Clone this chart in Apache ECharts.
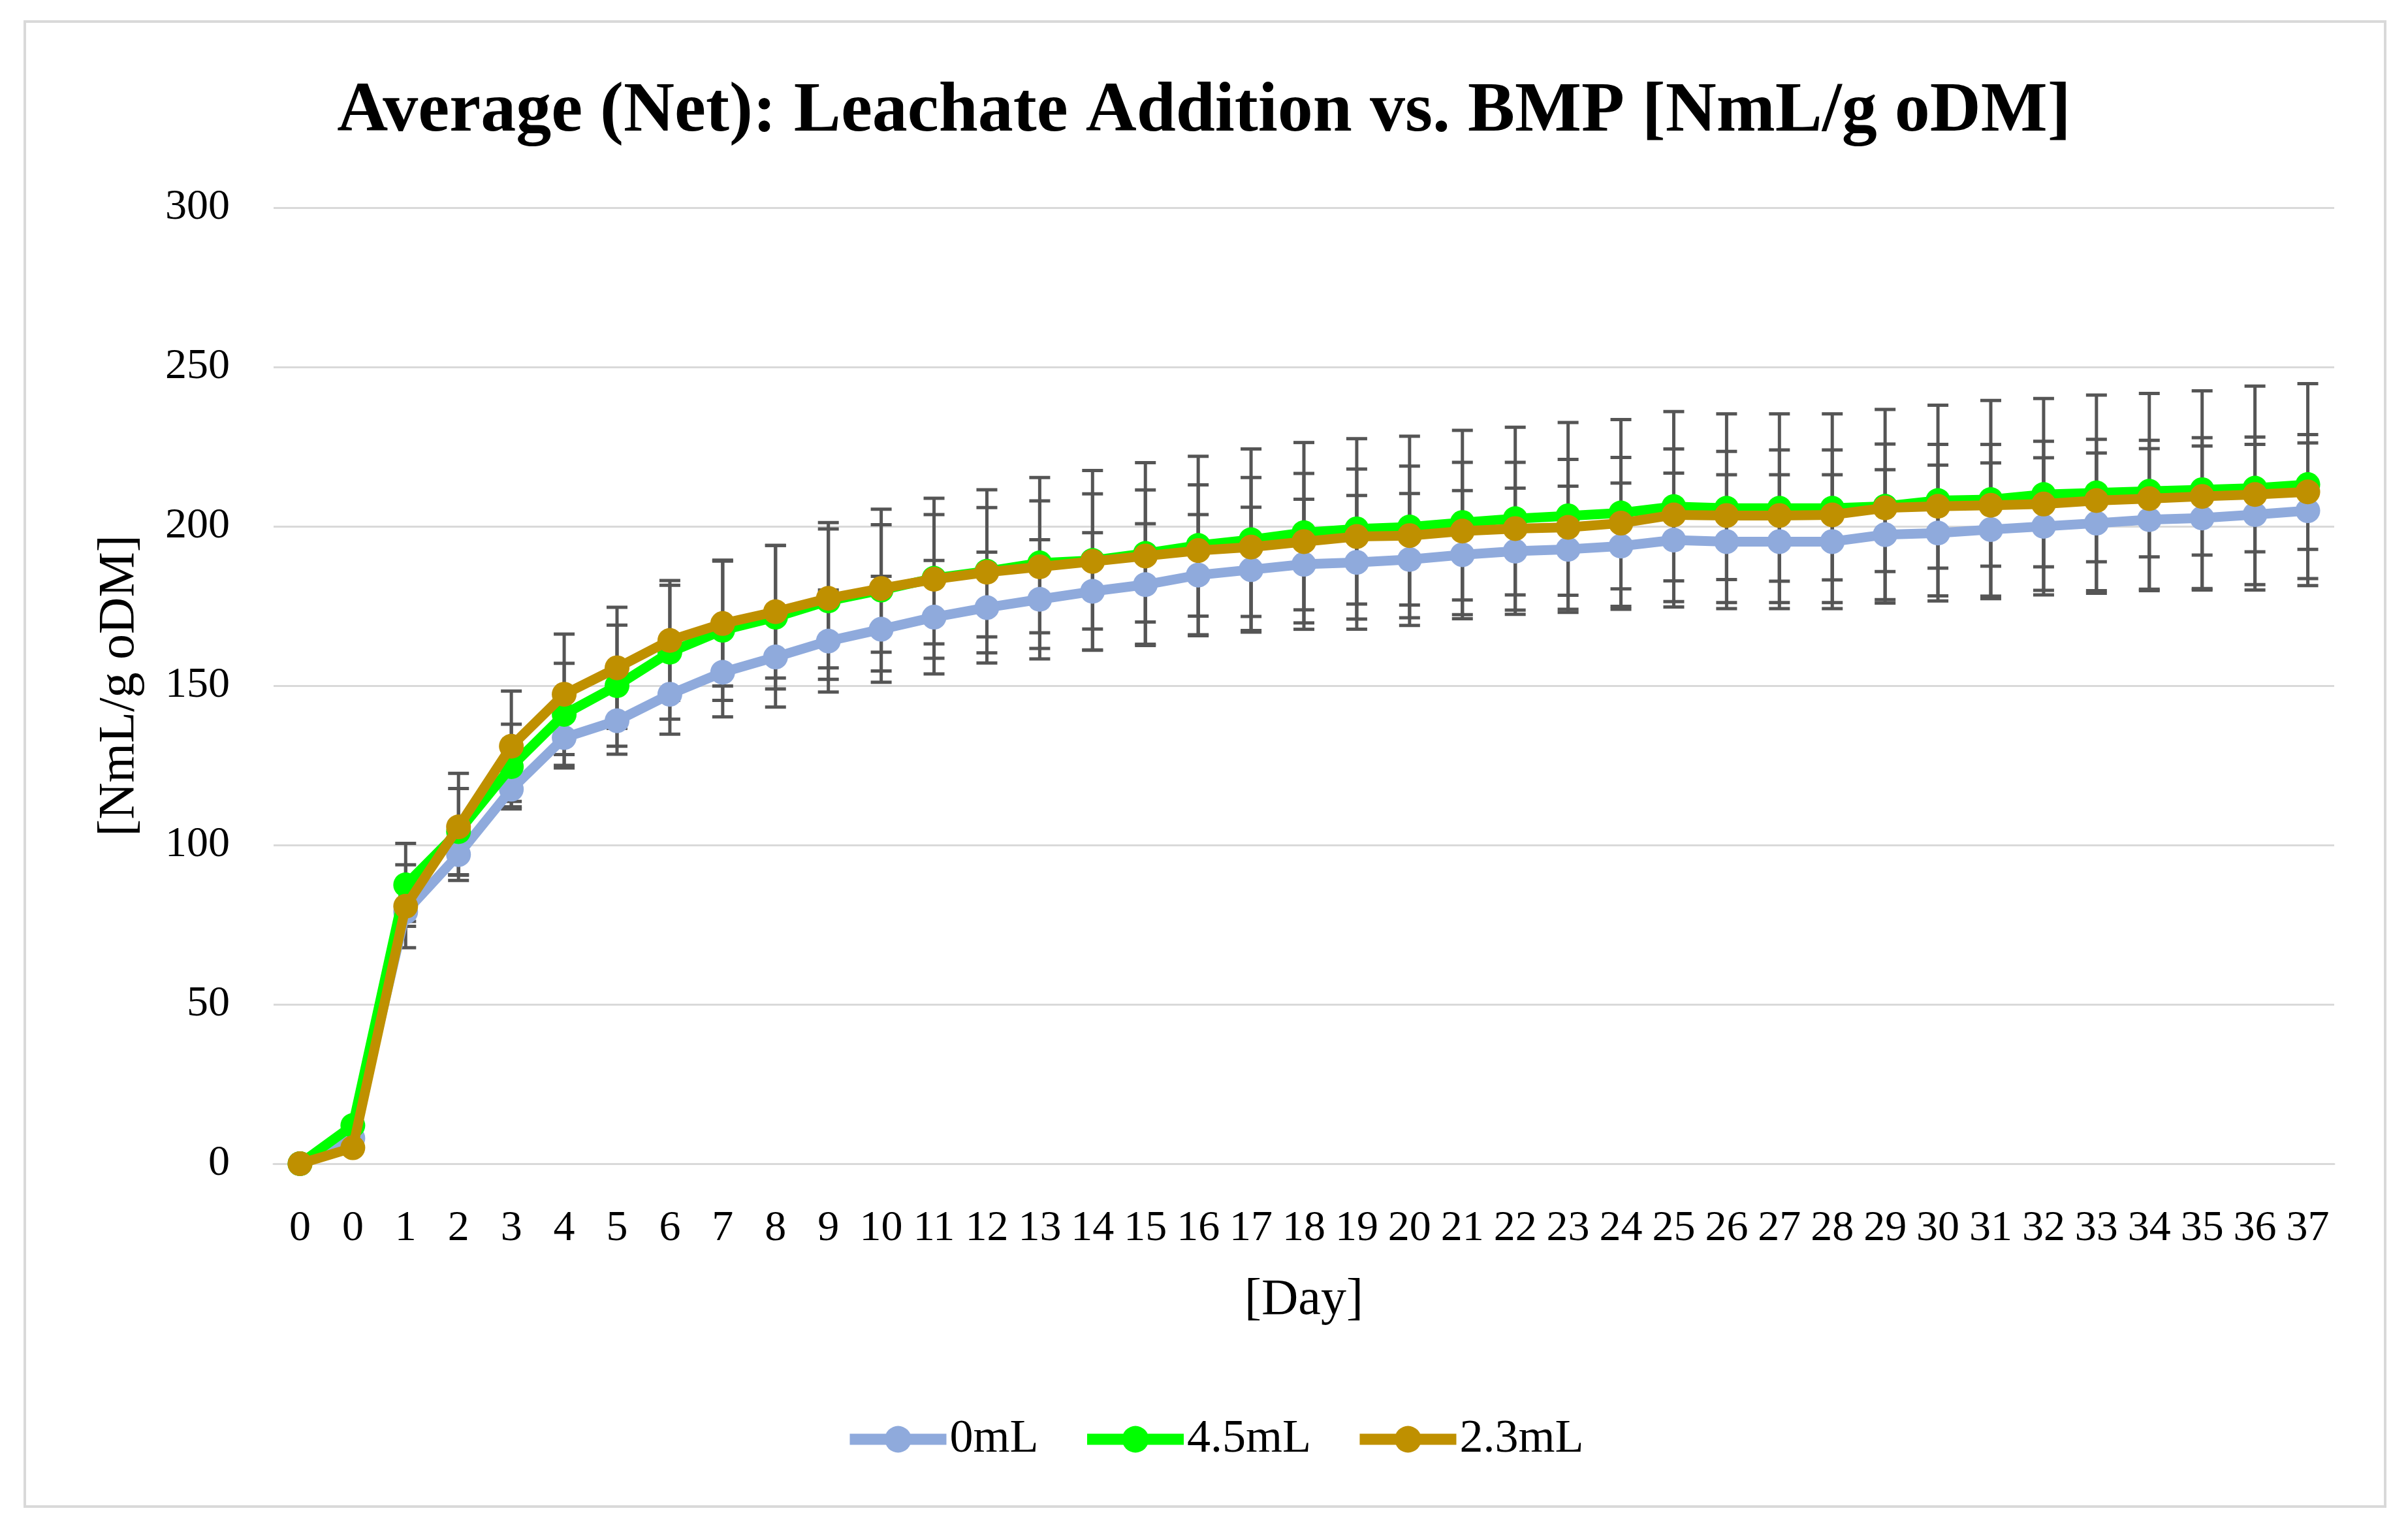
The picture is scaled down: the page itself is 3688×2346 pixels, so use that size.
<!DOCTYPE html>
<html>
<head>
<meta charset="utf-8">
<script src="https://cdn.jsdelivr.net/npm/echarts@6/dist/echarts.min.js"></script>
<style>
html,body{margin:0;padding:0;background:#fff;}
#chart{width:3688px;height:2346px;}
</style>
</head>
<body>
<div id="chart"></div>
<script>
const categories = ['0','0','1','2','3','4','5','6','7','8','9','10','11','12','13','14','15','16','17','18','19','20','21','22','23','24','25','26','27','28','29','30','31','32','33','34','35','36','37'];

const seriesNames = ['0mL', '4.5mL', '2.3mL'];

const values0mL = [0, 8, 79, 97, 117.5, 133.7, 139, 147.3, 154.2, 159, 164, 167.7, 171.5, 174.5, 177.1, 179.6, 181.7, 184.7, 186.4, 188.1, 188.7, 189.6, 191.1, 192.2, 192.8, 193.8, 195.7, 195.2, 195.2, 195.2, 197.4, 197.9, 199, 200, 201, 202.1, 202.6, 203.7, 204.9];
const values45mL = [0, 12, 87.5, 104.2, 124.6, 141, 150, 160.5, 167.4, 171.5, 176.6, 180, 183.7, 185.9, 188.5, 189.3, 191.5, 194, 195.8, 198, 199.2, 199.8, 201.2, 202.4, 203.3, 204.2, 206.2, 205.7, 205.7, 205.7, 206.3, 208.1, 208.4, 210, 210.5, 211, 211.5, 212, 213.1];
const values23mL = [0, 5, 80.8, 105.7, 131, 147.3, 155.6, 164.2, 169.5, 173.2, 177.4, 180.5, 183.4, 185.6, 187.3, 189, 190.7, 192.4, 193.5, 195.2, 196.8, 197.1, 198.5, 199.3, 199.7, 201, 203.6, 203.4, 203.4, 203.6, 205.8, 206.3, 206.6, 207, 208.1, 208.7, 209.4, 210, 210.8];

const err0mL = [0, 0, 3, 6.5, 5.5, 9.5, 10.5, 12.5, 14, 15.7, 16, 16.6, 17.8, 17.4, 18.7, 18.4, 19.1, 19, 19.6, 20.4, 21, 20.7, 20.1, 19.8, 19.8, 19.8, 21, 21, 21, 21, 20.4, 21.3, 20.9, 21.5, 22, 22.3, 22.6, 22, 21.3];
const err45mL = [0, 0, 13, 13.5, 13.3, 16, 19, 21, 22, 22.5, 24.6, 25.4, 25.1, 25.6, 26.8, 28.2, 28.5, 28, 28.5, 28.3, 28.3, 28.5, 28.9, 28.7, 29.3, 29.3, 29.8, 29.6, 29.6, 29.6, 30.4, 29.9, 31.1, 30.1, 30.7, 30.7, 31, 32, 31.7];
const err23mL = [0, 0, 13, 16.8, 17.3, 18.9, 19, 18.8, 19.6, 20.8, 21.8, 20, 20.3, 20.3, 20.7, 21.2, 20.7, 20.6, 21.8, 21.4, 21.2, 21.8, 21.6, 20.8, 21.3, 20.6, 20.7, 20.1, 20.6, 20.4, 20, 19.4, 19.1, 19.7, 19.2, 18.3, 18.4, 18, 18];

const yTicks = {min: 0, max: 300, interval: 50};

const colors = ['#8FAADC', '#00FF00', '#BF9000'];
const FONT = 'Liberation Serif';

const allValues = [values0mL, values45mL, values23mL];
const allErrs = [err0mL, err45mL, err23mL];

function errorData(vals, errs) {
  return vals.map((v, i) => [i, v - errs[i], v + errs[i], errs[i]]);
}

function renderError(params, api) {
  const e = api.value(3);
  if (!e) return null;
  const i = api.value(0);
  const lo = api.coord([i, api.value(1)]);
  const hi = api.coord([i, api.value(2)]);
  const half = 16;
  const style = {stroke: '#555555', lineWidth: 5};
  return {
    type: 'group',
    children: [
      {type: 'line', shape: {x1: lo[0], y1: lo[1], x2: hi[0], y2: hi[1]}, style: style},
      {type: 'line', shape: {x1: lo[0] - half, y1: lo[1], x2: lo[0] + half, y2: lo[1]}, style: style},
      {type: 'line', shape: {x1: hi[0] - half, y1: hi[1], x2: hi[0] + half, y2: hi[1]}, style: style}
    ]
  };
}

const series = [];
allValues.forEach((vals, k) => {
  series.push({
    type: 'custom',
    name: seriesNames[k] + ' error',
    renderItem: renderError,
    data: errorData(vals, allErrs[k]),
    z: 1,
    silent: true
  });
});
allValues.forEach((vals, k) => {
  series.push({
    type: 'line',
    name: seriesNames[k],
    data: vals,
    color: colors[k],
    symbol: 'circle',
    symbolSize: 38,
    showAllSymbol: true,
    lineStyle: {width: 15, color: colors[k]},
    itemStyle: {color: colors[k]},
    z: 2 + k
  });
});

const chart = echarts.init(document.getElementById('chart'), null, {renderer: 'canvas'});
chart.setOption({
  animation: false,
  backgroundColor: '#fff',
  title: {
    text: 'Average (Net): Leachate Addition vs. BMP [NmL/g oDM]',
    left: 'center',
    top: 113,
    textStyle: {fontFamily: FONT, fontWeight: 'bold', fontSize: 108, color: '#000'}
  },
  graphic: [{
    type: 'rect',
    shape: {x: 38, y: 33, width: 3615, height: 2274},
    style: {fill: 'none', stroke: '#D9D9D9', lineWidth: 4},
    silent: true,
    z: -1
  }],
  legend: {
    data: seriesNames,
    left: 1288,
    top: 2163,
    itemWidth: 148,
    itemHeight: 51,
    itemGap: 66,
    lineStyle: {width: 17},
    textStyle: {fontFamily: FONT, fontSize: 72, color: '#000'}
  },
  grid: {left: 419, right: 113, top: 318, bottom: 564, containLabel: false},
  xAxis: {
    type: 'category',
    data: categories,
    boundaryGap: true,
    name: '[Day]',
    nameLocation: 'middle',
    nameGap: 171,
    nameTextStyle: {fontFamily: FONT, fontSize: 78, color: '#000'},
    axisLine: {show: true, lineStyle: {color: '#D9D9D9', width: 3}},
    axisTick: {show: false},
    axisLabel: {fontFamily: FONT, fontSize: 66, color: '#000', margin: 67, interval: 0}
  },
  yAxis: {
    type: 'value',
    min: yTicks.min,
    max: yTicks.max,
    interval: yTicks.interval,
    name: '[NmL/g oDM]',
    nameLocation: 'middle',
    nameGap: 196,
    nameTextStyle: {fontFamily: FONT, fontSize: 78, color: '#000'},
    axisLine: {show: false},
    axisTick: {show: false},
    axisLabel: {fontFamily: FONT, fontSize: 66, color: '#000', margin: 67},
    splitLine: {lineStyle: {color: '#D9D9D9', width: 3}}
  },
  series: series
});
</script>
</body>
</html>
